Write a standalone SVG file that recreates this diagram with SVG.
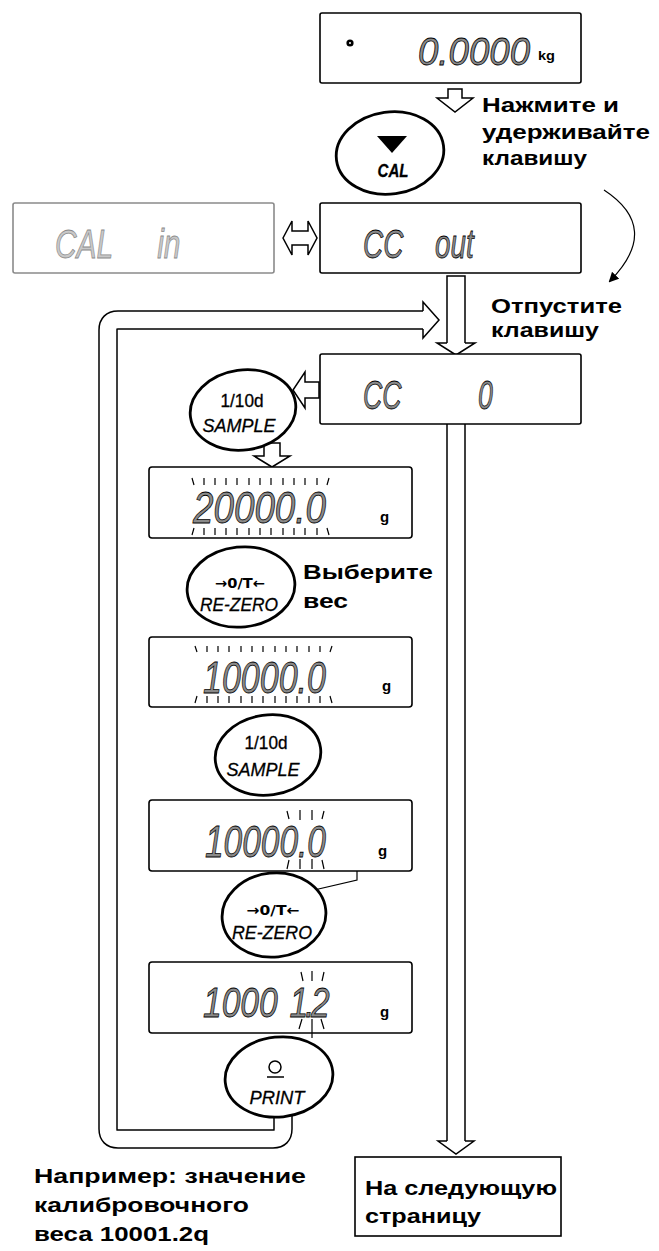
<svg xmlns="http://www.w3.org/2000/svg" width="659" height="1251" viewBox="0 0 659 1251">
<style>
.box{fill:#fff;stroke:#000;stroke-width:1.6}
.gbox{fill:#fff;stroke:#8a8a8a;stroke-width:1.6}
.btn{fill:#fff;stroke:#000;stroke-width:2.8}
.lcd{font-family:"Liberation Sans",Arial,sans-serif;font-style:italic;fill:#8a8a8a;stroke:#000;stroke-width:0.8}
.glcd{font-family:"Liberation Sans",Arial,sans-serif;font-style:italic;fill:#c8c8c8;stroke:#8a8a8a;stroke-width:0.8}
.unit{font-family:"Liberation Sans",Arial,sans-serif;font-weight:bold;fill:#000}
.lbl{font-family:"Liberation Sans",Arial,sans-serif;font-weight:bold;font-size:21px;fill:#000}
.key{font-family:"Liberation Sans",Arial,sans-serif;font-style:italic;font-size:19px;fill:#000;stroke:#000;stroke-width:0.3;text-anchor:middle}
.key2{font-family:"Liberation Sans",Arial,sans-serif;font-size:18px;fill:#000;stroke:#000;stroke-width:0.3;text-anchor:middle}
.zero{font-family:"DejaVu Sans","Liberation Sans",sans-serif;font-weight:bold;font-size:14px;fill:#000;text-anchor:middle}
.tick{fill:none;stroke:#000;stroke-width:1.2}
.hol{fill:#fff;stroke:#000;stroke-width:1.5}
.thin{fill:none;stroke:#000;stroke-width:1.2}
</style>
<defs>
<marker id="ah" markerWidth="10" markerHeight="10" refX="8" refY="5" orient="auto" markerUnits="userSpaceOnUse">
<path d="M0,0 L10,5 L0,10 Z" fill="#000"/>
</marker>
<marker id="ah2" markerWidth="8" markerHeight="8" refX="7" refY="4" orient="auto" markerUnits="userSpaceOnUse">
<path d="M0,0 L8,4 L0,8 Z" fill="#000"/>
</marker>
</defs>

<g id="connectors">
<path d="M283,1095 V1129 Q283,1139 273,1139 H118 Q108,1139 108,1129 V330 Q108,320 118,320 H423" fill="none" stroke="#000" stroke-width="19.5"/>
<path d="M283,1095 V1129 Q283,1139 273,1139 H118 Q108,1139 108,1129 V330 Q108,320 118,320 H423" fill="none" stroke="#fff" stroke-width="16.5"/>
<polyline class="hol" points="423,311 423,302 439,320 423,338 423,329"/>
<path class="thin" d="M447,343 V276 H465 V343 M447,424 V1141 M465,424 V1141" style="stroke-width:1.5"/>
<polyline class="hol" points="447,343 437,343 456,355 475,343 465,343"/>
<polyline class="hol" points="447,1141 438,1141 456,1154 474,1141 465,1141"/>
<polygon class="hol" points="448,89 462,89 462,98 473,98 455,112 437,98 448,98"/>
<polygon class="hol" points="283,238 292,221 292,231 308,231 308,221 317,238 308,255 308,245 292,245 292,255"/>
<path d="M604,190 Q662,228 610,281" fill="none" stroke="#000" stroke-width="1.2" marker-end="url(#ah)"/>
<polygon class="hol" points="319,382 305,382 305,372 293,390 305,408 305,398 319,398"/>
<polygon class="hol" points="264,443 280,443 280,456 290,456 272,467 254,456 264,456"/>
<line x1="340" y1="812" x2="340" y2="866" stroke="#000" stroke-width="1.2" marker-start="url(#ah2)" marker-end="url(#ah2)"/>
<polyline class="thin" points="341,837 357,837 357,880 297,894"/>
</g>

<g id="display-top">
<rect class="box" x="320" y="13" width="261" height="70" rx="2"/>
<circle cx="350" cy="43" r="3.6" fill="#000"/>
<circle cx="350" cy="43" r="1" fill="#fff"/>
<text class="lcd" x="418" y="65" font-size="38" textLength="112" lengthAdjust="spacingAndGlyphs">0.0000</text>
<text class="unit" x="538" y="60" font-size="13" textLength="17" lengthAdjust="spacingAndGlyphs">kg</text>
</g>

<g id="key-cal">
<ellipse class="btn" cx="390" cy="153" rx="54" ry="41" transform="rotate(-8 390 153)"/>
<polygon points="377,136 407,136 392,153" fill="#000"/>
<text class="key" x="393" y="177" font-size="18" textLength="31" lengthAdjust="spacingAndGlyphs" style="font-weight:bold">CAL</text>
</g>

<g id="note-press">
<text class="lbl" x="482" y="112" textLength="137" lengthAdjust="spacingAndGlyphs">Нажмите и</text>
<text class="lbl" x="482" y="139" textLength="168" lengthAdjust="spacingAndGlyphs">удерживайте</text>
<text class="lbl" x="482" y="165" textLength="105" lengthAdjust="spacingAndGlyphs">клавишу</text>
</g>

<g id="display-cal-in">
<rect class="gbox" x="13" y="203" width="261" height="70" rx="2"/>
<text class="glcd" transform="translate(55,258) scale(0.73,1)" font-size="41"><tspan x="0">CAL </tspan><tspan x="140">in</tspan></text>
</g>

<g id="display-cc-out">
<rect class="box" x="320" y="203" width="261" height="70" rx="2"/>
<text class="lcd" transform="translate(363,258) scale(0.68,1)" font-size="41"><tspan x="0">CC </tspan><tspan x="106">out</tspan></text>
</g>

<g id="note-release">
<text class="lbl" x="491" y="313" textLength="131" lengthAdjust="spacingAndGlyphs">Отпустите</text>
<text class="lbl" x="491" y="337" textLength="108" lengthAdjust="spacingAndGlyphs">клавишу</text>
</g>

<g id="display-cc-0">
<rect class="box" x="320" y="354" width="261" height="70" rx="2"/>
<text class="lcd" transform="translate(363,409) scale(0.65,1)" font-size="41"><tspan x="0">CC </tspan><tspan x="177">0</tspan></text>
</g>

<g id="key-sample-1">
<ellipse class="btn" cx="243" cy="410" rx="53" ry="40" transform="rotate(-8 243 410)"/>
<text class="key2" x="242" y="407" textLength="43" lengthAdjust="spacingAndGlyphs">1/10d</text>
<text class="key" x="239" y="432" textLength="73" lengthAdjust="spacingAndGlyphs">SAMPLE</text>
</g>

<g id="display-20000">
<rect class="box" x="149" y="467" width="263" height="71" rx="3"/>
<path class="tick" d="M192,478 l2,7 M204,478 v7 M215,478 v7 M226,478 v7 M237,478 v7 M249,478 v7 M260,478 v7 M271,478 v7 M283,478 v7 M294,478 v7 M305,478 v7 M317,478 v7 M329,478 l-2,7 M194,528 l-2,7 M204,528 v7 M215,528 v7 M226,528 v7 M237,528 v7 M249,528 v7 M260,528 v7 M271,528 v7 M283,528 v7 M294,528 v7 M305,528 v7 M317,528 v7 M327,528 l2,7"/>
<text class="lcd" x="193" y="523" font-size="44" textLength="133" lengthAdjust="spacingAndGlyphs">20000.0</text>
<text class="unit" x="380" y="522" font-size="15">g</text>
</g>

<g id="key-rezero-1">
<ellipse class="btn" cx="241" cy="587" rx="54" ry="40" transform="rotate(-6 241 587)"/>
<text class="zero" x="240" y="588" textLength="50" lengthAdjust="spacingAndGlyphs">→0/T←</text>
<text class="key" x="239" y="611" textLength="78" lengthAdjust="spacingAndGlyphs">RE-ZERO</text>
</g>

<g id="note-select">
<text class="lbl" x="303" y="579" textLength="130" lengthAdjust="spacingAndGlyphs">Выберите</text>
<text class="lbl" x="303" y="608" textLength="45" lengthAdjust="spacingAndGlyphs">вес</text>
</g>

<g id="display-10000-a">
<rect class="box" x="149" y="637" width="263" height="70" rx="3"/>
<path class="tick" d="M195,646 l2,6 M207,646 v6 M218,646 v6 M229,646 v6 M241,646 v6 M252,646 v6 M263,646 v6 M275,646 v6 M286,646 v6 M297,646 v6 M309,646 v6 M320,646 v6 M332,646 l-2,6 M197,696 l-2,7 M207,696 v7 M218,696 v7 M229,696 v7 M241,696 v7 M252,696 v7 M263,696 v7 M275,696 v7 M286,696 v7 M297,696 v7 M309,696 v7 M320,696 v7 M330,696 l2,7"/>
<text class="lcd" x="203" y="693" font-size="44" textLength="123" lengthAdjust="spacingAndGlyphs">10000.0</text>
<text class="unit" x="382" y="691" font-size="15">g</text>
</g>

<g id="key-sample-2">
<ellipse class="btn" cx="268" cy="755" rx="53" ry="40" transform="rotate(-8 268 755)"/>
<text class="key2" x="266" y="749" textLength="43" lengthAdjust="spacingAndGlyphs">1/10d</text>
<text class="key" x="263" y="776" textLength="73" lengthAdjust="spacingAndGlyphs">SAMPLE</text>
</g>

<g id="display-10000-b">
<rect class="box" x="149" y="800" width="263" height="71" rx="3"/>
<path class="tick" d="M287,811 l2,8 M300,810 v10 M312,810 v10 M324,811 l-2,8 M289,860 l-2,9 M300,859 v10 M312,859 v10 M322,860 l2,9"/>
<text class="lcd" x="205" y="857" font-size="44" textLength="121" lengthAdjust="spacingAndGlyphs">10000.0</text>
<text class="unit" x="378" y="856" font-size="15">g</text>
</g>

<g id="key-rezero-2">
<ellipse class="btn" cx="274" cy="915" rx="52" ry="42" transform="rotate(-6 274 915)"/>
<text class="zero" x="273" y="915" textLength="53" lengthAdjust="spacingAndGlyphs">→0/T←</text>
<text class="key" x="272" y="939" textLength="80" lengthAdjust="spacingAndGlyphs">RE-ZERO</text>
</g>

<g id="display-10001">
<rect class="box" x="149" y="962" width="263" height="71" rx="3"/>
<path class="tick" d="M301,972 l2,9 M312,971 v10 M324,972 l-2,9 M302,1019 l-3,10 M312,1019 v19 M321,1019 l3,10"/>
<text class="lcd" transform="translate(203,1017) scale(0.8,1)" font-size="42"><tspan x="0">1000</tspan><tspan x="108" letter-spacing="-4">1.2</tspan></text>
<text class="unit" x="380" y="1017" font-size="15">g</text>
</g>

<g id="key-print">
<ellipse class="btn" cx="279" cy="1077" rx="54" ry="40" transform="rotate(-6 279 1077)"/>
<circle cx="275" cy="1067" r="6" fill="none" stroke="#000" stroke-width="1.5"/>
<line x1="267" y1="1077" x2="284" y2="1077" stroke="#000" stroke-width="1.5"/>
<text class="key" x="277" y="1104" textLength="55" lengthAdjust="spacingAndGlyphs">PRINT</text>
</g>

<g id="note-example">
<text class="lbl" x="34" y="1183" textLength="272" lengthAdjust="spacingAndGlyphs">Например: значение</text>
<text class="lbl" x="34" y="1212" textLength="215" lengthAdjust="spacingAndGlyphs">калибровочного</text>
<text class="lbl" x="34" y="1241" textLength="175" lengthAdjust="spacingAndGlyphs">веса 10001.2q</text>
</g>

<g id="next-page">
<rect x="355" y="1157" width="206" height="79" fill="#fff" stroke="#000" stroke-width="1.6"/>
<text class="lbl" x="365" y="1195" textLength="192" lengthAdjust="spacingAndGlyphs">На следующую</text>
<text class="lbl" x="365" y="1223" textLength="116" lengthAdjust="spacingAndGlyphs">страницу</text>
</g>
</svg>
